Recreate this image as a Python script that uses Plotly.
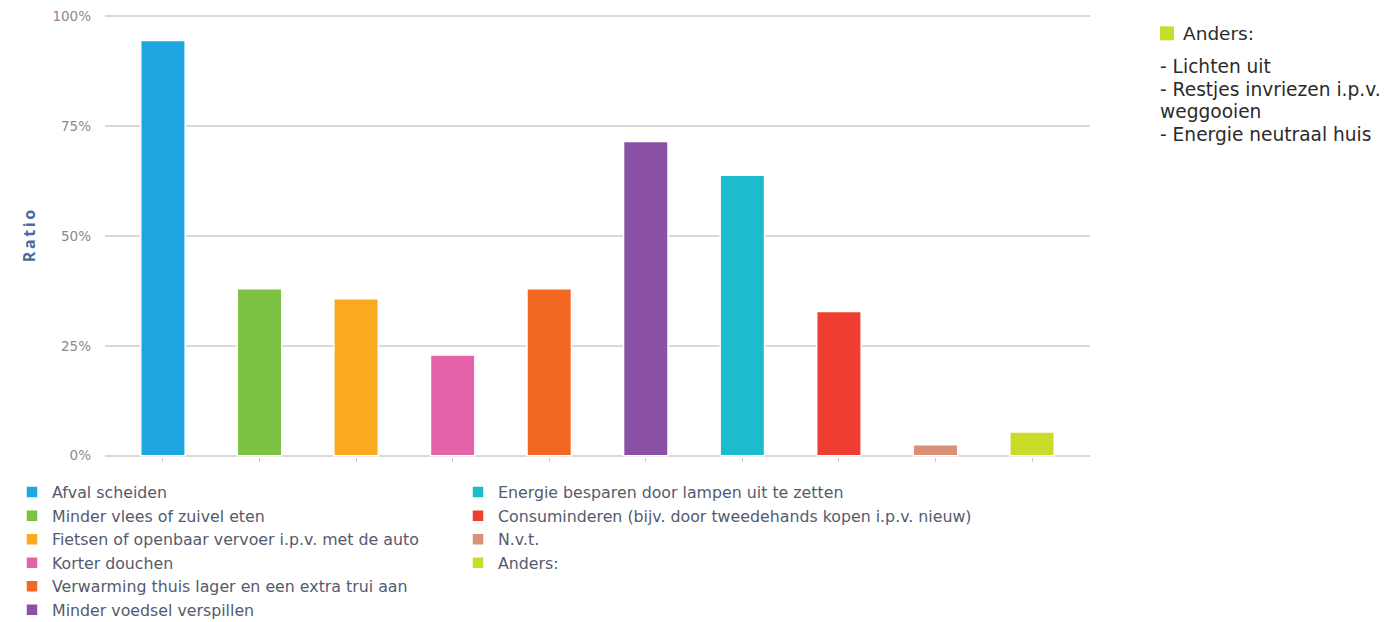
import plotly.graph_objects as go

categories = [
    "Afval scheiden",
    "Minder vlees of zuivel eten",
    "Fietsen of openbaar vervoer i.p.v. met de auto",
    "Korter douchen",
    "Verwarming thuis lager en een extra trui aan",
    "Minder voedsel verspillen",
    "Energie besparen door lampen uit te zetten",
    "Consuminderen (bijv. door tweedehands kopen i.p.v. nieuw)",
    "N.v.t.",
    "Anders:",
]
values = [94.5, 38.0, 35.7, 22.9, 38.0, 71.5, 63.8, 32.8, 2.5, 5.4]
colors = ["#1fa5e0", "#7cc142", "#fba91e", "#e564a9", "#f26722",
          "#8a50a3", "#1cbccc", "#ee3e31", "#d98f78", "#c9dc2a"]
legend_groups = ["legend"] * 6 + ["legend2"] * 4

y_ticks = [0, 25, 50, 75, 100]
y_tick_labels = ["0%", "25%", "50%", "75%", "100%"]

note_title = "Anders:"
note_lines = ["- Lichten uit", "- Restjes invriezen i.p.v.", "weggooien", "- Energie neutraal huis"]

fig = go.Figure()
for cat, val, col, lg in zip(categories, values, colors, legend_groups):
    fig.add_trace(go.Bar(
        x=[cat], y=[val], name=cat, legend=lg,
        marker=dict(color=col, line=dict(color="#ffffff", width=1.5)),
        width=0.46,
    ))

W, H = 1386, 622
# data-area: 100% at y=16px, 0% at y=458px; y range padded so edge gridlines show
y_lo, y_hi = -0.3, 100.3
ppu = (458 - 16) / 100.0
top_px = 16 - (y_hi - 100) * ppu
bot_px = 458 - (0 - y_lo) * ppu
L, R = 105, W - 1090
T, B = top_px, H - bot_px
pw, ph = W - L - R, H - T - B

def px(x):
    return (x - L) / pw

def py(y):
    return (H - B - y) / ph

legend_font = dict(family="DejaVu Sans", size=15.8, color="#555a6e")

fig.update_layout(
    width=W, height=H,
    margin=dict(l=L, r=R, t=T, b=B, autoexpand=False),
    paper_bgcolor="#ffffff", plot_bgcolor="#ffffff",
    barmode="overlay",
    showlegend=True,
    legend=dict(
        x=px(12), y=py(475), xanchor="left", yanchor="top",
        orientation="v", font=legend_font, tracegroupgap=0,
        itemwidth=30, bgcolor="rgba(0,0,0,0)",
    ),
    legend2=dict(
        x=px(458), y=py(475), xanchor="left", yanchor="top",
        orientation="v", font=legend_font, tracegroupgap=0,
        itemwidth=30, bgcolor="rgba(0,0,0,0)",
    ),
    xaxis=dict(
        type="category", range=[-0.6, 9.6],
        showticklabels=False, showgrid=False,
        ticks="outside", ticklen=4, tickcolor="#cccccc",
        showline=False, zeroline=False,
    ),
    yaxis=dict(
        range=[y_lo, y_hi], tickvals=y_ticks, ticktext=y_tick_labels,
        showgrid=True, gridcolor="#d9d9d9", gridwidth=2,
        zeroline=False, showline=False,
        tickfont=dict(family="DejaVu Sans", size=13.5, color="#8a8a8a"),
        ticklabelstandoff=13,
        title=dict(text="<b>R\u2009a\u2009t\u2009i\u2009o</b>",
                   font=dict(family="Open Sans", size=16, color="#4a6b9c"),
                   standoff=12),
    ),
    font=dict(family="Open Sans"),
)

# note on the right
fig.add_shape(type="rect", xref="paper", yref="paper",
              x0=px(1160), x1=px(1174), y0=py(40), y1=py(26),
              fillcolor=colors[-1], line=dict(width=0), layer="above")
fig.add_annotation(xref="paper", yref="paper", x=px(1181), y=py(33),
                   xanchor="left", yanchor="middle", showarrow=False,
                   text=note_title, align="left",
                   font=dict(family="DejaVu Sans", size=18.5, color="#2b2b2b"))
for i, line in enumerate(note_lines):
    fig.add_annotation(xref="paper", yref="paper", x=px(1158), y=py(66 + i * 22.7),
                       xanchor="left", yanchor="middle", showarrow=False,
                       text=line, align="left",
                       font=dict(family="DejaVu Sans", size=18.6, color="#2b2b2b"))

fig.write_html("out.html",
               config={"displayModeBar": False},
               post_script="document.body.style.margin='0px';document.body.style.overflow='hidden';")
